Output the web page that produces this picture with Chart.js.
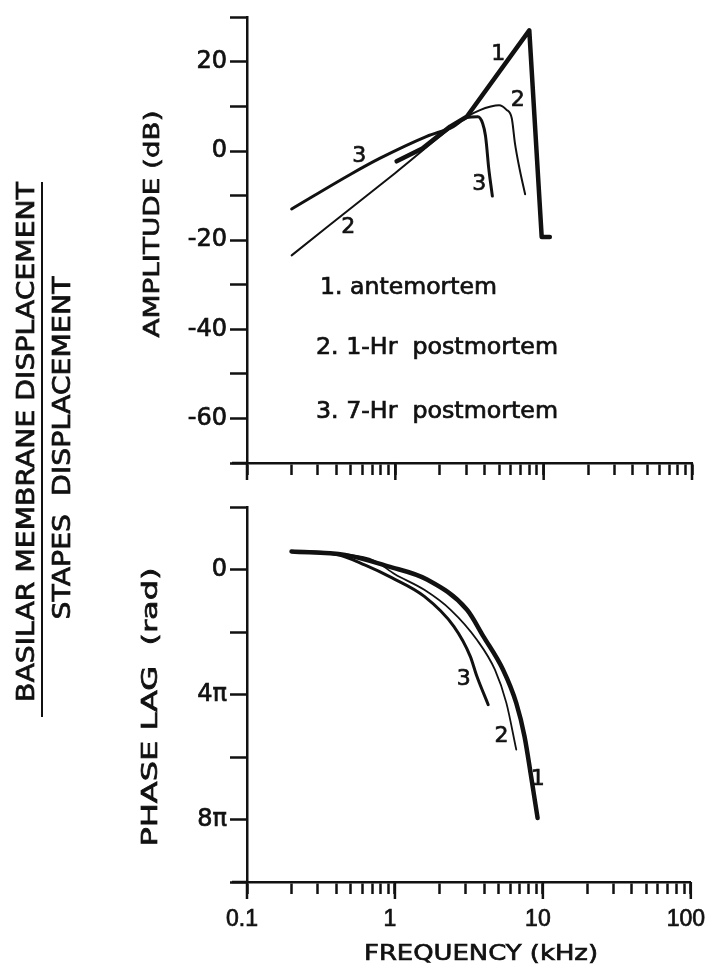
<!DOCTYPE html>
<html>
<head>
<meta charset="utf-8">
<title>Basilar membrane response</title>
<script src="https://cdn.jsdelivr.net/npm/chart.js@4.4.1/dist/chart.umd.min.js"></script>
<style>
  html, body { margin: 0; padding: 0; background: #fff; }
  #page { position: relative; width: 722px; height: 973px; overflow: hidden; background: #fff; }
  #page canvas, #page svg { position: absolute; left: 0; }
  #ratio text { font-family: "DejaVu Sans", sans-serif; font-size: 24px; fill: #111; stroke: #111; stroke-width: 0.7px; }
</style>
</head>
<body>
<div id="page">
  <canvas id="ampChart" width="722" height="490" style="top:0"></canvas>
  <canvas id="phaseChart" width="722" height="483" style="top:490px"></canvas>
  <!-- ratio label down the left edge: numerator over denominator -->
  <svg id="ratio" width="100" height="973" style="top:0">
    <text x="26" y="442" transform="rotate(-90 26 442)" text-anchor="middle" dominant-baseline="central"
          textLength="520" lengthAdjust="spacingAndGlyphs">BASILAR MEMBRANE DISPLACEMENT</text>
    <line x1="42" y1="182" x2="42" y2="717" stroke="#111" stroke-width="2"></line>
    <text x="62" y="448" transform="rotate(-90 62 448)" text-anchor="middle" dominant-baseline="central"
          textLength="343" lengthAdjust="spacingAndGlyphs" xml:space="preserve">STAPES  DISPLACEMENT</text>
  </svg>
</div>

<script>
const ink = '#111';

// Frequency axis (kHz), log scale, ticks at 1..9 per decade
const freqMin = 0.1;
const freqMax = 100;
const freqMajor = [0.1, 1, 10, 100];
const freqLabels = ['0.1', '1', '10', '100'];

// Amplitude (dB) — 1. antemortem, 2. 1-Hr postmortem, 3. 7-Hr postmortem
const ampFreq1 = [1.02, 1.52, 2.34, 3.03, 8.0, 9.7, 11.0];
const ampDb1 = [-2.3, 0.6, 5.5, 7.7, 27.1, -19.3, -19.3];
const ampFreq2 = [0.2, 1.0, 3.03, 3.72, 4.4, 5.0, 5.6, 6.1, 6.4, 6.9, 7.5];
const ampDb2 = [-23.4, -4.9, 7.7, 9.2, 10.0, 10.3, 9.3, 7.3, 1.8, -4.2, -9.7];
const ampFreq3 = [0.2, 0.5, 0.79, 1.63, 2.46, 3.03, 3.6, 3.88, 4.05, 4.13, 4.25, 4.36, 4.51];
const ampDb3 = [-13.0, -5.2, -1.6, 3.3, 5.5, 7.5, 7.7, 6.2, 3.5, 1.0, -3.5, -6.5, -10.1];

// Phase lag, in units of pi rad
const phaseFreq1 = [0.2, 0.46, 0.9, 1.66, 3.07, 3.96, 5.38, 6.61, 7.51, 8.32, 9.21];
const phaseLag1 = [-0.59, -0.48, -0.11, 0.32, 1.28, 2.13, 3.2, 4.27, 5.33, 6.61, 7.95];
const phaseFreq2 = [0.2, 0.46, 0.72, 1.0, 1.58, 2.38, 3.58, 4.74, 5.67, 6.61];
const phaseLag2 = [-0.59, -0.5, -0.3, 0.14, 0.64, 1.28, 2.24, 3.2, 4.27, 5.76];
const phaseFreq3 = [0.2, 0.4, 0.63, 0.95, 1.58, 2.5, 3.23, 3.58, 4.27];
const phaseLag3 = [-0.59, -0.5, -0.15, 0.25, 0.85, 1.81, 2.77, 3.41, 4.32];

// Curve numbers written beside the traces
const ampMarkText = ['1', '2', '3', '2', '3'];
const ampMarkFreq = [4.95, 6.68, 0.571, 0.482, 3.68];
const ampMarkDb = [21.8, 11.4, -1.2, -17.1, -7.5];
const phaseMarkText = ['3', '2', '1'];
const phaseMarkFreq = [2.92, 5.25, 9.22];
const phaseMarkLag = [3.52, 5.33, 6.72];

const legendLines = ['1. antemortem', '2. 1-Hr  postmortem', '3. 7-Hr  postmortem'];

const freqTicks = [];
for (let d = freqMin; d < freqMax; d *= 10) {
  for (let k = 1; k <= 9; k++) freqTicks.push(+(d * k).toPrecision(3));
}
freqTicks.push(freqMax);

Chart.defaults.font.family = '"DejaVu Sans", sans-serif';
Chart.defaults.color = ink;

function series(xs, ys) {
  return xs.map((x, i) => ({ x: x, y: ys[i] }));
}

function lineSet(label, xs, ys, width, smooth) {
  return {
    label: label,
    data: series(xs, ys),
    borderColor: ink,
    borderWidth: width,
    pointRadius: 0,
    fill: false,
    tension: smooth ? 0.4 : 0,
    cubicInterpolationMode: smooth ? 'monotone' : 'default',
    borderCapStyle: 'round',
    borderJoinStyle: 'round'
  };
}

// lettering: fill plus a thin stroke so it reads as heavy as the tick labels
function inkText(ctx, text, x, y) {
  ctx.fillText(text, x, y);
  ctx.strokeText(text, x, y);
}

// text squeezed/stretched to a set length, optionally rotated
function drawStretched(ctx, text, x, y, width, angle, align, font) {
  ctx.save();
  ctx.font = font;
  const natural = ctx.measureText(text).width;
  ctx.translate(x, y);
  ctx.rotate(angle);
  ctx.scale(width / natural, 1);
  ctx.textAlign = align;
  ctx.textBaseline = 'middle';
  ctx.fillStyle = ink;
  ctx.strokeStyle = ink;
  ctx.lineWidth = 0.7;
  inkText(ctx, text, 0, 0);
  ctx.restore();
}

// longer marks at the decades, plus the little overhang left of the origin
const axisExtras = {
  id: 'axisExtras',
  afterDraw(chart) {
    const { ctx, chartArea: a } = chart;
    const x = chart.scales.x;
    ctx.save();
    ctx.strokeStyle = ink;
    ctx.lineWidth = 2.5;
    ctx.beginPath();
    freqMajor.forEach(v => {
      const px = x.getPixelForValue(v);
      ctx.moveTo(px, a.bottom);
      ctx.lineTo(px, a.bottom + 17);
    });
    ctx.moveTo(a.left - 15, a.bottom);
    ctx.lineTo(a.left, a.bottom);
    ctx.stroke();
    ctx.restore();
  }
};

const curveNotes = {
  id: 'curveNotes',
  afterDatasetsDraw(chart, args, opts) {
    const { ctx } = chart;
    const x = chart.scales.x, y = chart.scales.y;
    ctx.save();
    ctx.fillStyle = ink;
    ctx.strokeStyle = ink;
    ctx.lineWidth = 0.7;
    ctx.font = '22px "DejaVu Sans"';
    ctx.textAlign = 'center';
    ctx.textBaseline = 'middle';
    (opts.marks || []).forEach(m => {
      inkText(ctx, m.text, x.getPixelForValue(m.f), y.getPixelForValue(m.v));
    });
    ctx.restore();
    (opts.texts || []).forEach(t => {
      drawStretched(ctx, t.text, t.x, t.y, t.w, t.angle || 0, t.align || 'center', t.font || '22px "DejaVu Sans"');
    });
  }
};

function freqAxis(showLabels, height) {
  return {
    type: 'logarithmic',
    min: freqMin,
    max: freqMax,
    afterBuildTicks: s => { s.ticks = freqTicks.map(v => ({ value: v })); },
    afterFit: s => { s.height = height; },
    grid: { drawOnChartArea: false, drawTicks: true, tickLength: 12, tickWidth: 2.5, tickColor: ink },
    border: { display: true, color: ink, width: 2.5 },
    ticks: {
      display: showLabels,
      autoSkip: false,
      maxRotation: 0,
      minRotation: 0,
      padding: 12,
      labelOffset: -5,
      color: ink,
      textStrokeColor: ink,
      textStrokeWidth: 0.7,
      font: { family: '"Liberation Sans", sans-serif', size: 23 },
      callback: (val, i, ticks) => {
        const k = freqMajor.indexOf(ticks[i].value);
        return k >= 0 ? freqLabels[k] : '';
      }
    }
  };
}

function valueAxis(extra) {
  return Object.assign({
    afterFit: s => { s.width = 247; },
    grid: { drawOnChartArea: false, drawTicks: true, tickLength: 17, tickWidth: 2.5, tickColor: ink },
    border: { display: true, color: ink, width: 2.5 }
  }, extra);
}

const ampMarks = ampMarkText.map((t, i) => ({ text: t, f: ampMarkFreq[i], v: ampMarkDb[i] }));
const phaseMarks = phaseMarkText.map((t, i) => ({ text: t, f: phaseMarkFreq[i], v: phaseMarkLag[i] }));

new Chart(document.getElementById('ampChart'), {
  type: 'line',
  data: {
    datasets: [
      lineSet('antemortem', ampFreq1, ampDb1, 4.5, false),
      lineSet('1-Hr postmortem', ampFreq2, ampDb2, 2, true),
      lineSet('7-Hr postmortem', ampFreq3, ampDb3, 3, true)
    ]
  },
  options: {
    responsive: false,
    animation: false,
    layout: { padding: { top: 13, right: 30, bottom: 0, left: 0 }, autoPadding: false },
    scales: {
      x: freqAxis(false, 27),
      y: valueAxis({
        min: -70,
        max: 30,
        ticks: {
          stepSize: 10,
          autoSkip: false,
          padding: 3,
          color: ink,
          textStrokeColor: ink,
          textStrokeWidth: 0.7,
          font: { size: 24 },
          callback: v => (v % 20 === 0 && v <= 20 ? String(v) : '')
        }
      })
    },
    plugins: {
      legend: { display: false },
      tooltip: { enabled: false },
      curveNotes: {
        marks: ampMarks,
        texts: [
          { text: 'AMPLITUDE (dB)', x: 153, y: 224, w: 227, angle: -Math.PI / 2 },
          { text: legendLines[0], x: 320, y: 288, w: 177, align: 'left', font: '23px "DejaVu Sans"' },
          { text: legendLines[1], x: 316, y: 348, w: 242, align: 'left', font: '23px "DejaVu Sans"' },
          { text: legendLines[2], x: 316, y: 412, w: 242, align: 'left', font: '23px "DejaVu Sans"' }
        ]
      }
    }
  },
  plugins: [axisExtras, curveNotes]
});

const lagLabels = { 0: '0', 4: '4\u03c0', 8: '8\u03c0' };

new Chart(document.getElementById('phaseChart'), {
  type: 'line',
  data: {
    datasets: [
      lineSet('antemortem', phaseFreq1, phaseLag1, 4.5, true),
      lineSet('1-Hr postmortem', phaseFreq2, phaseLag2, 1.8, true),
      lineSet('7-Hr postmortem', phaseFreq3, phaseLag3, 3, true)
    ]
  },
  options: {
    responsive: false,
    animation: false,
    layout: { padding: { top: 17, right: 26, bottom: 0, left: 0 }, autoPadding: false },
    scales: {
      x: freqAxis(true, 91),
      y: valueAxis({
        min: -2,
        max: 10,
        reverse: true,
        ticks: {
          stepSize: 2,
          autoSkip: false,
          padding: 3,
          color: ink,
          textStrokeColor: ink,
          textStrokeWidth: 0.7,
          font: { size: 24 },
          callback: v => lagLabels[v] || ''
        }
      })
    },
    plugins: {
      legend: { display: false },
      tooltip: { enabled: false },
      curveNotes: {
        marks: phaseMarks,
        texts: [
          { text: 'PHASE LAG  (rad)', x: 151, y: 217, w: 279, angle: -Math.PI / 2 },
          { text: 'FREQUENCY (kHz)', x: 481, y: 464, w: 234 }
        ]
      }
    }
  },
  plugins: [axisExtras, curveNotes]
});
</script>
</body>
</html>
